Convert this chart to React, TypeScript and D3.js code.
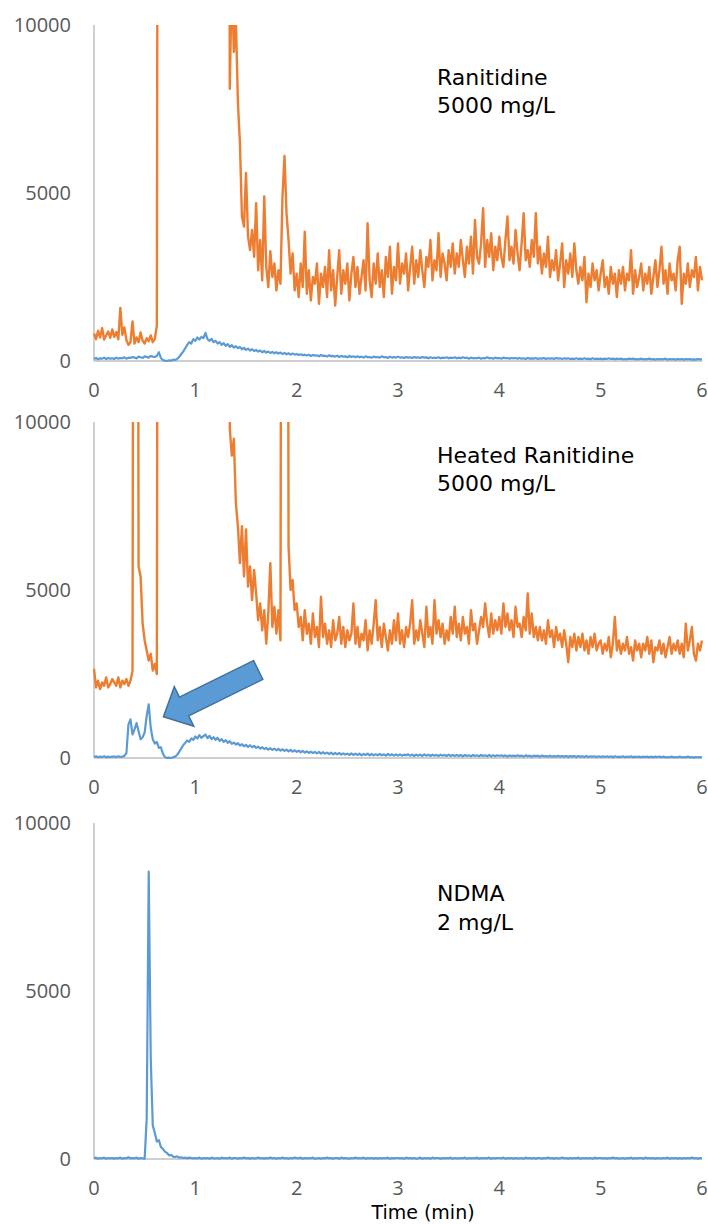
import * as d3 from 'd3';

// chromatograms sampled every 0.02 min from 0 to 6 min (301 points)
const STEP = 0.02;
const X_TICKS = [0, 1, 2, 3, 4, 5, 6];
const Y_TICKS = [0, 5000, 10000];

// values above 10000 run off the top of the plot
const ranitidineOrange = [
  820, 650, 900, 700, 980, 640, 760, 880, 690, 940,
  720, 860, 650, 1580, 780, 1000, 620, 480, 560, 1180,
  520, 700, 560, 850, 600, 520, 680, 590, 760, 560,
  650, 1050, 40000, 40000, 40000, 40000, 40000, 40000, 40000, 40000,
  40000, 40000, 40000, 40000, 40000, 40000, 40000, 40000, 40000, 40000,
  40000, 40000, 40000, 40000, 40000, 40000, 40000, 40000, 40000, 40000,
  40000, 40000, 40000, 40000, 40000, 40000, 40000, 8100, 11500, 9200,
  10200, 7700, 6500, 4300, 4000, 5600, 3700, 3300, 3900, 3100,
  4700, 2700, 3600, 2400, 4900, 2800, 2200, 3270, 2500, 2900,
  2100, 2700, 2300, 4900, 6100, 4400, 3600, 2600, 3200, 2100,
  2600, 1900, 2900, 2200, 3850, 2000, 2700, 1800, 2500, 2300,
  2900, 1700, 2600, 2200, 2800, 1900, 3300, 2100, 2700, 1650,
  2500, 3300, 2000, 2700, 2300, 2900, 1800, 2600, 3100, 2200,
  2800, 2000, 2500, 3000, 2100, 4100, 2400, 1900, 2900, 2300,
  3200, 2200, 2700, 1900, 3100, 2500, 3400, 2000, 2800, 2400,
  3500, 2300, 2900, 2600, 3200, 2100, 2800, 3400, 2300, 3000,
  2500, 3300, 2700, 2200, 3100, 2800, 3600, 2400, 3000, 2700,
  3800, 2500, 3200, 2900, 2400, 3300, 2800, 3500, 2600, 3200,
  2800, 3600, 3000, 2500, 3400, 2900, 3700, 2600, 4200, 3100,
  2900, 3500, 4550, 2800, 3600, 3100, 3800, 2700, 3400, 3000,
  3700, 3100, 2800, 3600, 4300, 3000, 3400, 2900, 3900, 3200,
  2700, 3500, 4400, 3000, 3300, 2800, 3600, 3100, 4400, 2900,
  3400, 2600, 3200, 2800, 3700, 2500, 3000, 2700, 3300, 2400,
  2900, 3500, 2200, 3000, 2600, 3200, 2500, 3500, 2700, 2300,
  2800, 2400, 3100, 1750, 2600, 2200, 2900, 2400, 2700, 2100,
  2600, 3000, 2200, 2500, 2000, 2800, 2300, 2600, 1900, 2700,
  2300, 2800, 2100, 2600, 2400, 3300, 2000, 2700, 2200, 2500,
  2900, 2100, 2600, 2300, 2800, 2000, 2500, 3000, 2200, 2700,
  3400, 2300, 2700, 2000, 2900, 2400, 2600, 2100, 3000, 3400,
  1700, 2600, 2300, 2900, 2200, 2700, 2500, 3100, 2100, 2800,
  2400,
];

const ranitidineBlue = [
  60, 90, 50, 80, 70, 100, 60, 90, 70, 80,
  60, 100, 70, 90, 80, 110, 70, 100, 90, 120,
  100, 80, 130, 110, 90, 140, 120, 100, 150, 130,
  120, 150, 260, 90, 30, 10, 0, 20, 10, 40,
  30, 60, 120, 200, 280, 380, 480, 560, 520, 650,
  600, 700, 640, 720, 680, 840, 650, 600, 660, 560,
  600, 520, 560, 480, 530, 450, 500, 420, 470, 400,
  440, 380, 420, 350, 390, 330, 370, 310, 350, 300,
  330, 280, 310, 260, 300, 250, 280, 240, 270, 230,
  260, 220, 250, 210, 240, 200, 230, 190, 220, 190,
  210, 180, 200, 170, 190, 160, 190, 150, 180, 160,
  170, 140, 180, 150, 160, 130, 170, 140, 150, 130,
  160, 120, 150, 130, 140, 110, 150, 120, 140, 110,
  140, 110, 130, 100, 140, 110, 120, 100, 130, 110,
  120, 100, 140, 110, 120, 90, 130, 100, 120, 100,
  130, 100, 110, 90, 120, 100, 110, 90, 120, 100,
  110, 90, 120, 100, 110, 80, 110, 90, 100, 90,
  110, 80, 100, 90, 110, 80, 100, 90, 110, 80,
  100, 80, 110, 90, 100, 70, 100, 80, 90, 80,
  100, 70, 90, 80, 110, 80, 90, 70, 100, 80,
  90, 70, 100, 80, 90, 70, 90, 80, 90, 70,
  90, 70, 80, 60, 90, 70, 80, 70, 90, 60,
  80, 70, 90, 60, 80, 70, 80, 60, 90, 70,
  80, 60, 80, 70, 80, 60, 70, 60, 80, 60,
  70, 60, 80, 60, 70, 50, 80, 60, 70, 60,
  70, 50, 70, 60, 80, 60, 70, 50, 70, 60,
  70, 50, 60, 50, 70, 60, 70, 50, 60, 50,
  70, 50, 60, 50, 70, 50, 60, 40, 60, 50,
  60, 50, 70, 40, 60, 50, 60, 40, 60, 50,
  60, 40, 60, 50, 60, 40, 50, 40, 60, 50,
  50,
];

const heatedOrange = [
  2650, 2100, 2300, 2050, 2250, 2150, 2400, 2100, 2200, 2350,
  2250, 2150, 2400, 2100, 2300, 2200, 2350, 2150, 2300, 2600,
  40000, 40000, 5700, 5400, 4000, 3500, 3200, 2900, 3100, 2600,
  2800, 2500, 40000, 40000, 40000, 40000, 40000, 40000, 40000, 40000,
  40000, 40000, 40000, 40000, 40000, 40000, 40000, 40000, 40000, 40000,
  40000, 40000, 40000, 40000, 40000, 40000, 40000, 40000, 40000, 40000,
  40000, 40000, 40000, 40000, 40000, 40000, 40000, 9800, 9000, 9500,
  7600, 6900, 5800, 6900, 5400, 6800, 5100, 5700, 4700, 5600,
  4900, 4100, 4600, 3800, 4400, 3400, 4300, 5800, 3900, 4500,
  3700, 4400, 3500, 40000, 40000, 40000, 6300, 5000, 5300, 4400,
  4600, 3900, 4200, 3500, 4400, 3700, 4000, 3400, 4300, 3600,
  3900, 3300, 4800, 3600, 4000, 3400, 3800, 3300, 4100, 3500,
  3700, 4200, 3400, 3900, 3300, 3800, 3500, 3700, 4600, 3400,
  3900, 3300, 3700, 3500, 4100, 3200, 3800, 3400, 4000, 4700,
  3500, 3900, 3300, 4000, 3600, 3200, 3800, 3400, 4100, 3500,
  4300, 3400, 3800, 3300, 3900, 3600, 4000, 4700, 3400, 3800,
  3500, 4100, 3700, 3300, 4500, 3600, 3900, 3400, 4700, 3700,
  4100, 3600, 4000, 3400, 3800, 3500, 4200, 3700, 4500, 3600,
  4000, 3500, 4200, 3700, 3900, 3400, 4400, 3800, 4000, 3400,
  3800, 4200, 3900, 4600, 4000, 3600, 4300, 3700, 4100, 3800,
  4200, 3700, 4600, 3900, 4300, 3800, 4100, 3600, 4500, 3900,
  4000, 3600, 4200, 3800, 4900, 3700, 4300, 3600, 3900, 3500,
  3900, 3500, 3800, 3400, 4100, 3600, 3800, 3300, 3900, 3500,
  3700, 3300, 3800, 3400, 2850, 3600, 3300, 3700, 3200, 3600,
  3300, 3700, 3200, 3500, 3100, 3600, 3300, 3700, 3200, 3400,
  3500, 3100, 3400, 3200, 3600, 3000, 3400, 4200, 3200, 3500,
  3100, 3400, 3200, 3600, 3100, 3300, 2900, 3500, 3200, 3400,
  3000, 3400, 3200, 3600, 3100, 3500, 2850, 3300, 3200, 3500,
  3100, 3400, 3000, 3300, 3600, 3100, 3400, 3200, 3500, 3100,
  3400, 3000, 4000, 3200, 3500, 3900, 3100, 2900, 3400, 3200,
  3500,
];

const heatedBlue = [
  30, 50, 20, 40, 30, 50, 20, 40, 30, 40,
  40, 30, 50, 30, 40, 60, 150, 1000, 1150, 700,
  850, 1040, 800, 560, 620, 760, 1250, 1600, 900, 560,
  430, 480, 300, 320, 130, 30, 0, 10, 0, 20,
  40, 90, 180, 280, 380, 450, 520, 480, 580, 540,
  640, 580, 680, 600, 650, 700, 590, 660, 560, 620,
  540, 600, 510, 560, 480, 530, 450, 500, 420, 460,
  400, 440, 370, 410, 350, 390, 330, 380, 320, 360,
  300, 340, 280, 320, 270, 300, 250, 290, 240, 280,
  230, 270, 220, 260, 210, 250, 200, 240, 190, 230,
  180, 220, 170, 210, 160, 200, 150, 190, 150, 180,
  140, 180, 130, 170, 130, 160, 120, 160, 110, 150,
  110, 150, 100, 140, 100, 130, 90, 140, 90, 130,
  90, 130, 80, 120, 90, 130, 80, 120, 80, 110,
  80, 120, 80, 110, 70, 120, 80, 110, 70, 110,
  70, 110, 70, 100, 80, 110, 70, 100, 60, 100,
  70, 100, 60, 110, 70, 100, 60, 100, 70, 90,
  60, 100, 70, 90, 60, 100, 60, 90, 60, 90,
  60, 90, 50, 90, 60, 80, 50, 90, 60, 80,
  50, 90, 60, 80, 50, 90, 50, 80, 50, 80,
  60, 80, 50, 80, 40, 80, 50, 70, 50, 80,
  50, 70, 40, 80, 50, 70, 40, 70, 50, 70,
  40, 70, 50, 60, 40, 70, 40, 60, 40, 70,
  40, 60, 40, 60, 30, 60, 40, 60, 30, 60,
  40, 50, 30, 60, 30, 50, 40, 50, 30, 50,
  30, 50, 30, 50, 30, 50, 20, 50, 30, 40,
  30, 50, 20, 40, 30, 50, 20, 40, 30, 40,
  20, 40, 30, 40, 20, 40, 20, 40, 30, 40,
  20, 40, 20, 30, 20, 40, 20, 30, 20, 40,
  20, 30, 20, 40, 20, 30, 10, 30, 20, 30,
  20,
];

const ndmaBlue = [
  20, 40, 10, 30, 20, 40, 10, 30, 20, 30,
  10, 30, 20, 40, 10, 30, 20, 50, 20, 30,
  20, 40, 10, 30, 20, 10, 1200, 8550, 3000, 1000,
  780, 520, 560, 360, 300, 220, 180, 110, 120, 70,
  60, 80, 40, 50, 30, 40, 20, 40, 30, 20,
  30, 20, 40, 10, 30, 20, 30, 10, 40, 20,
  20, 30, 10, 40, 20, 30, 20, 40, 10, 30,
  30, 10, 30, 20, 40, 20, 30, 10, 30, 20,
  20, 40, 20, 30, 10, 30, 20, 40, 20, 30,
  10, 30, 20, 40, 20, 30, 10, 30, 20, 40,
  30, 20, 40, 10, 30, 20, 30, 20, 40, 10,
  20, 30, 10, 30, 20, 40, 20, 30, 10, 30,
  30, 10, 40, 20, 30, 20, 10, 30, 20, 40,
  20, 30, 20, 40, 10, 30, 20, 30, 10, 30,
  10, 30, 20, 30, 20, 40, 10, 30, 20, 30,
  30, 20, 30, 10, 40, 20, 30, 20, 30, 10,
  20, 40, 10, 30, 20, 30, 10, 40, 20, 30,
  30, 10, 30, 20, 30, 20, 40, 10, 30, 20,
  20, 30, 20, 40, 10, 30, 20, 30, 20, 40,
  10, 30, 20, 30, 20, 40, 10, 30, 20, 30,
  30, 20, 40, 10, 30, 20, 30, 10, 30, 20,
  20, 30, 10, 40, 20, 30, 20, 30, 10, 30,
  30, 10, 30, 20, 40, 20, 30, 10, 30, 20,
  20, 40, 20, 30, 10, 30, 20, 30, 20, 40,
  10, 30, 20, 30, 20, 30, 10, 40, 20, 30,
  30, 20, 30, 10, 30, 20, 40, 20, 30, 10,
  20, 30, 10, 30, 20, 40, 10, 30, 20, 30,
  30, 10, 40, 20, 30, 20, 30, 10, 30, 20,
  20, 30, 20, 40, 10, 30, 20, 30, 10, 30,
  10, 30, 20, 30, 20, 40, 20, 30, 10, 30,
  20,
];

// annotation texts per panel
const panelLabels = [
  ['Ranitidine', '5000 mg/L'],
  ['Heated Ranitidine', '5000 mg/L'],
  ['NDMA', '2 mg/L'],
];

// arrow in panel 2, [time, signal]
const arrowTip = [0.685, 1230];
const arrowTail = [1.62, 2620];

const ORANGE = '#ed7d31';
const BLUE = '#5b9bd5';
const AXIS = '#bfbfbf';
const TICK_FONT = "'Open Sans', sans-serif";
const TEXT_FONT = "'DejaVu Sans', Verdana, sans-serif";

const W = 708;
const H = 1224;
const PLOT_H = 336;

const panels = [
  {top: 25, series: [{v: ranitidineOrange, c: ORANGE, w: 2.4}, {v: ranitidineBlue, c: BLUE, w: 2.2}], textY: [85, 113]},
  {top: 422, series: [{v: heatedOrange, c: ORANGE, w: 2.4}, {v: heatedBlue, c: BLUE, w: 2.2}], textY: [463, 491]},
  {top: 823, series: [{v: ndmaBlue, c: BLUE, w: 2.2}], textY: [901, 930]},
];

const xScale = d3.scaleLinear().domain([0, 6]).range([94, 702]);

function Arrow({y}) {
  const tip = [xScale(arrowTip[0]), y(arrowTip[1])];
  const tail = [xScale(arrowTail[0]), y(arrowTail[1])];
  const dx = tip[0] - tail[0];
  const dy = tip[1] - tail[1];
  const len = Math.hypot(dx, dy);
  const u = [dx / len, dy / len];
  const n = [-u[1], u[0]];
  const headLen = 23;
  const sw = 10.5;
  const hw = 22;
  const base = [tip[0] - u[0] * headLen, tip[1] - u[1] * headLen];
  const pt = (p, k) => `${p[0] + n[0] * k},${p[1] + n[1] * k}`;
  const pts = [
    pt(tail, sw), pt(base, sw), pt(base, hw), `${tip[0]},${tip[1]}`,
    pt(base, -hw), pt(base, -sw), pt(tail, -sw),
  ].join(' ');
  return <polygon points={pts} fill={BLUE} stroke="#41719c" strokeWidth={1.5} strokeLinejoin="miter" />;
}

function Panel({p, i}) {
  const y = d3.scaleLinear().domain([0, 10000]).range([p.top + PLOT_H, p.top]);
  const line = d3
    .line()
    .x((d, k) => xScale(k * STEP))
    .y(d => y(d));
  const zero = y(0);
  return (
    <g>
      <defs>
        <clipPath id={`clip${i}`}>
          <rect x={93} y={p.top} width={612} height={PLOT_H + 4} />
        </clipPath>
      </defs>
      <line x1={94} x2={94} y1={p.top} y2={zero} stroke={AXIS} strokeWidth={1.5} />
      <line x1={94} x2={702} y1={zero} y2={zero} stroke={AXIS} strokeWidth={1.5} />
      {Y_TICKS.map(t => (
        <text key={t} x={71} y={y(t)} dy="0.36em" textAnchor="end" fontFamily={TICK_FONT} fontSize={20} fill="#595959">
          {t}
        </text>
      ))}
      {X_TICKS.map(t => (
        <text key={t} x={xScale(t)} y={zero + 36} textAnchor="middle" fontFamily={TICK_FONT} fontSize={20} fill="#595959">
          {t}
        </text>
      ))}
      <g clipPath={`url(#clip${i})`}>
        {p.series.map((s, k) => (
          <path key={k} d={line(s.v)} fill="none" stroke={s.c} strokeWidth={s.w} strokeLinejoin="round" />
        ))}
      </g>
      {panelLabels[i].map((t, k) => (
        <text key={k} x={437} y={p.textY[k]} fontFamily={TEXT_FONT} fontSize={22} fill="#000">
          {t}
        </text>
      ))}
      {i === 1 && <Arrow y={y} />}
    </g>
  );
}

export default function App() {
  return (
    <svg width={W} height={H} style={{position: 'absolute', left: 0, top: 0, background: '#fff'}}>
      {panels.map((p, i) => (
        <Panel key={i} p={p} i={i} />
      ))}
      <text x={423} y={1219} textAnchor="middle" fontFamily={TEXT_FONT} fontSize={19} fill="#000">
        Time (min)
      </text>
    </svg>
  );
}
